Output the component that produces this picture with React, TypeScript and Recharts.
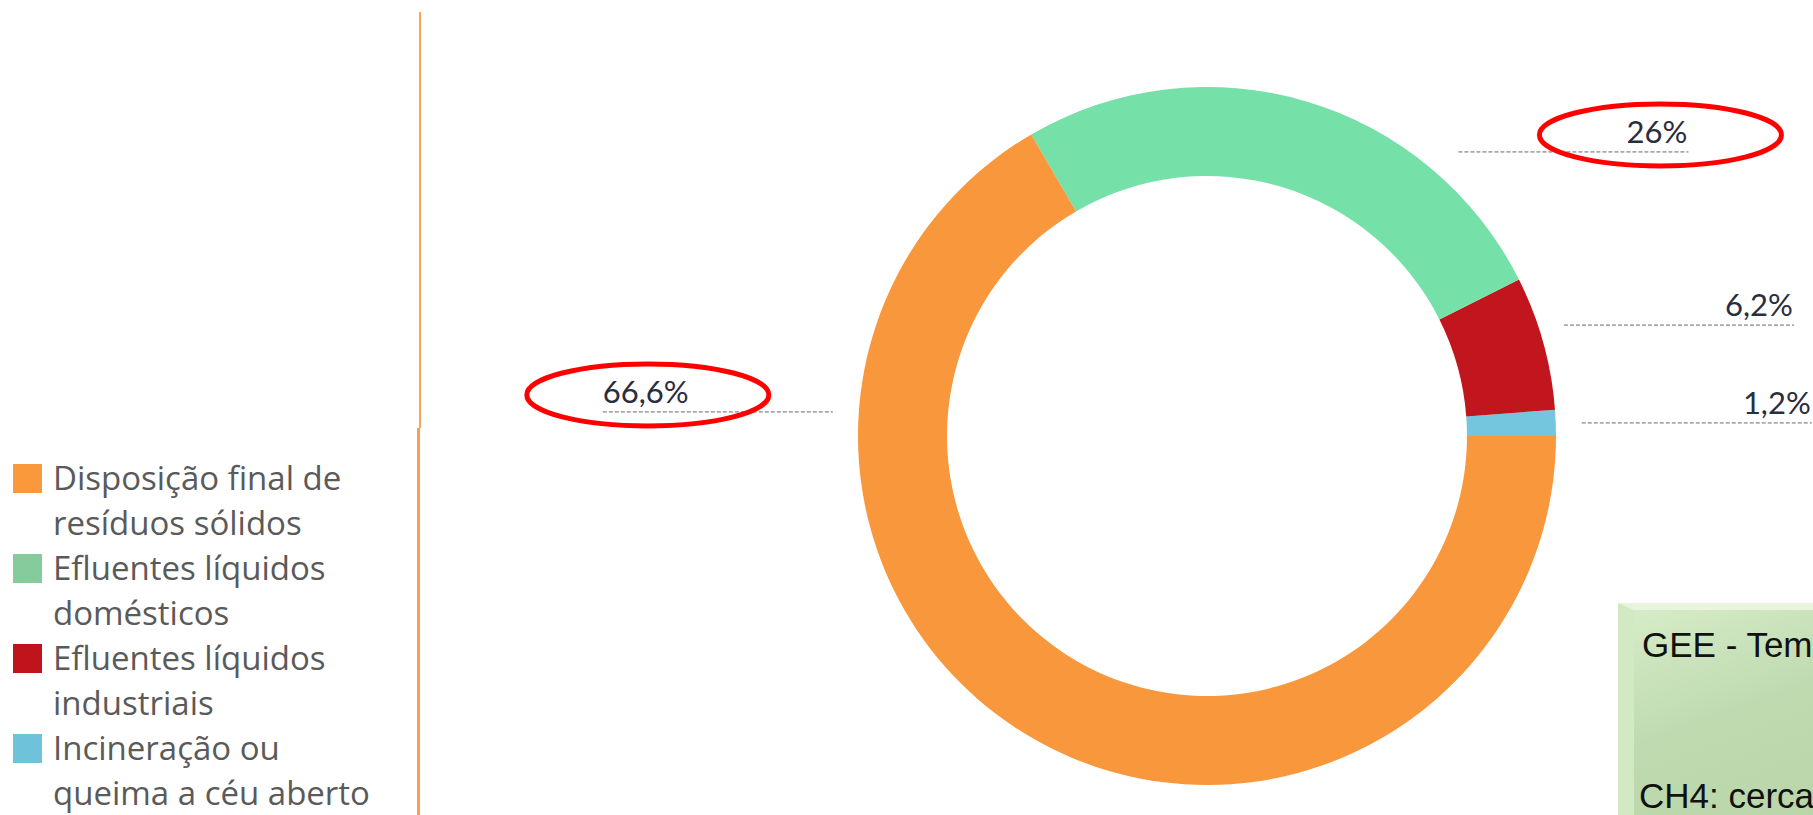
import React from "react";
import { PieChart, Pie, Cell, Legend } from "recharts";

// slices go counter-clockwise from 3 o'clock
const categories = [
  "Incineração ou queima a céu aberto",
  "Efluentes líquidos industriais",
  "Efluentes líquidos domésticos",
  "Disposição final de resíduos sólidos",
];
const shares = [1.2, 6.2, 26, 66.6];
const sliceColors = ["#73C6DE", "#C1161D", "#76E0A9", "#F9973C"];
const legendColors = ["#6EC3DB", "#C0141C", "#86CB9C", "#FA993C"];
const legendOrder = [3, 2, 1, 0];
const highlighted = ["Disposição final de resíduos sólidos", "Efluentes líquidos domésticos"];

const data = categories.map((name, i) => ({ name, value: shares[i] }));

const W = 1813;
const H = 815;
const CX = 1207;
const CY = 436;
const R_OUT = 349;
const R_IN = 260;

const LABEL_GAP = 0.28; // min vertical gap between right-side labels, in radii
const LABEL_CAP = 0.814;
const LEFT_LIFT = 0.069;
const LINE_GAP = 26;
const LINE_LEN = 230;
const RAD = Math.PI / 180;
const FONT = "Lato, 'Open Sans', sans-serif";
const LEGEND_FONT = "'Open Sans', Lato, sans-serif";

const fmt = (v: number) => String(v).replace(".", ",") + "%";

function layoutLabels() {
  const total = shares.reduce((a, b) => a + b, 0);
  let acc = 0;
  let prevRight = -Infinity;
  return shares.map((v) => {
    const s = (acc / total) * 360;
    acc += v;
    const e = (acc / total) * 360;
    const mid = (s + e) / 2;
    const right = Math.cos(mid * RAD) >= 0;
    const natural = Math.sin(mid * RAD);
    if (right) {
      let y = Math.max(natural, prevRight + LABEL_GAP);
      y = Math.min(y, LABEL_CAP);
      prevRight = y;
      // labels squeezed under the cap get pushed further out
      return { right, y, push: Math.max(natural - y, 0) * 0.45 };
    }
    const y = s <= 180 && e >= 180 ? LEFT_LIFT : natural;
    return { right, y, push: 0 };
  });
}
const labelPos = layoutLabels();

function SliceLabel(props: any) {
  const { cx, cy, outerRadius, index } = props;
  const pos = labelPos[index];
  const lineY = cy - pos.y * outerRadius;
  const dy = pos.y * outerRadius;
  const edge = Math.sqrt(Math.max(outerRadius * outerRadius - dy * dy, 0));
  const gap = LINE_GAP + pos.push * outerRadius;
  let x1: number, x2: number;
  if (pos.right) {
    x1 = cx + edge + gap;
    x2 = x1 + LINE_LEN;
  } else {
    x2 = cx - edge - gap;
    x1 = x2 - LINE_LEN;
  }
  const text = fmt(shares[index]);
  const textW = text.length * 18;
  const textX = pos.right ? x2 - 1 : x1;
  const midX = pos.right ? textX - textW / 2 : textX + textW / 2;
  return (
    <g>
      <line x1={x1} y1={lineY} x2={x2} y2={lineY} stroke="#a9a9a9" strokeWidth={1.6} strokeDasharray="4 2" />
      <text
        x={textX}
        y={lineY - 9}
        textAnchor={pos.right ? "end" : "start"}
        fontFamily={FONT}
        fontSize={31}
        fill="#2a2d3e"
      >
        {text}
      </text>
      {highlighted.includes(categories[index]) && (
        <ellipse cx={midX} cy={lineY - 17} rx={121} ry={31} fill="none" stroke="#ff0000" strokeWidth={5} />
      )}
    </g>
  );
}

function LegendList() {
  return (
    <div style={{ fontFamily: LEGEND_FONT, fontSize: 33, lineHeight: "45px", color: "#5a5a5a" }}>
      {legendOrder.map((i) => (
        <div key={categories[i]} style={{ display: "flex", alignItems: "flex-start" }}>
          <span
            style={{
              display: "inline-block",
              width: 29,
              height: 29,
              marginTop: 9,
              marginRight: 11,
              background: legendColors[i],
              flexShrink: 0,
            }}
          />
          <span style={{ width: 350 }}>{categories[i]}</span>
        </div>
      ))}
    </div>
  );
}

export default function App() {
  return (
    <div style={{ position: "absolute", left: 0, top: 0, width: W, height: H, overflow: "hidden", background: "#fff" }}>
      <div style={{ position: "absolute", left: 419, top: 12, width: 2, height: 416, background: "#F9A65A" }} />
      <div style={{ position: "absolute", left: 417, top: 428, width: 3, height: 387, background: "#F9A050" }} />

      <PieChart width={W} height={H} margin={{ top: 0, right: 0, bottom: 0, left: 0 }}>
        <Pie
          data={data}
          dataKey="value"
          nameKey="name"
          cx={CX}
          cy={CY}
          innerRadius={R_IN}
          outerRadius={R_OUT}
          startAngle={0}
          endAngle={360}
          stroke="none"
          label={SliceLabel}
          labelLine={false}
          isAnimationActive={false}
        >
          {data.map((d, i) => (
            <Cell key={d.name} fill={sliceColors[i]} />
          ))}
        </Pie>
        <Legend
          verticalAlign="bottom"
          content={() => <LegendList />}
          wrapperStyle={{ position: "absolute", left: 13, top: 455, bottom: "auto", width: 420 }}
        />
      </PieChart>

      <div
        style={{
          position: "absolute",
          left: 1618,
          top: 603,
          width: 260,
          height: 260,
          boxSizing: "border-box",
          borderTop: "7px solid #e8f5dc",
          borderLeft: "16px solid #d2e9c3",
          background: "linear-gradient(160deg, #d6ecc8 0%, #bfdab0 40%, #b6d3a6 100%)",
          fontFamily: "'Liberation Sans', Arial, sans-serif",
          fontSize: 35,
          color: "#111",
        }}
      >
        <div style={{ position: "absolute", left: 8, top: 15, lineHeight: "40px", whiteSpace: "nowrap" }}>GEE - Tem</div>
        <div style={{ position: "absolute", left: 5, top: 166, lineHeight: "40px", whiteSpace: "nowrap" }}>CH4: cerca</div>
      </div>
    </div>
  );
}
